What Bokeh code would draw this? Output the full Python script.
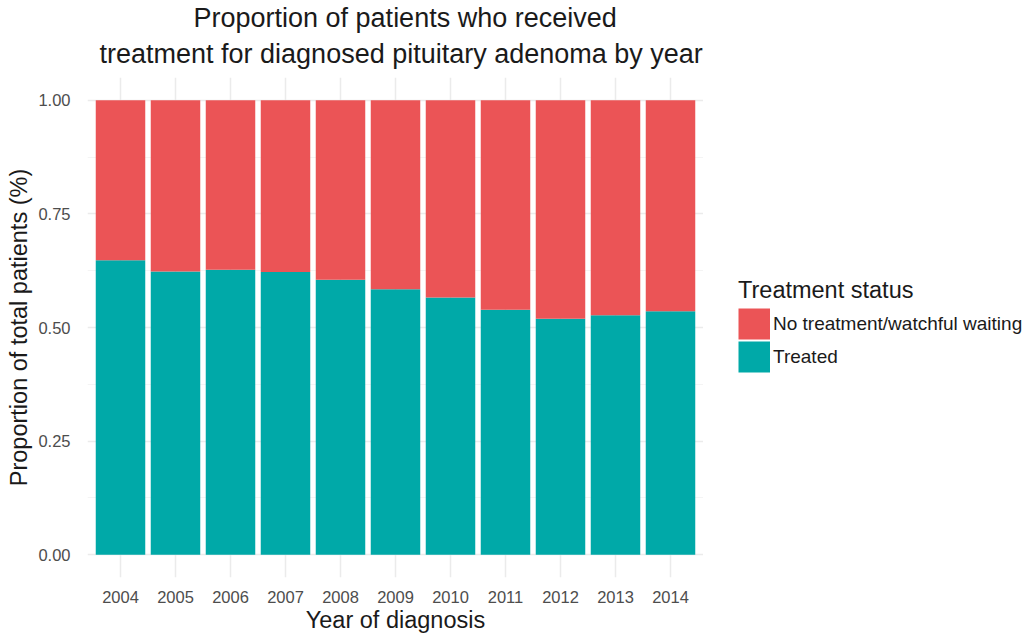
from bokeh.plotting import figure
from bokeh.models import (FactorRange, Range1d, FixedTicker, Legend, LegendItem,
                          Title, ColumnDataSource)
from bokeh.layouts import row
from bokeh.embed import file_html
from bokeh.resources import INLINE

years = ["2004", "2005", "2006", "2007", "2008", "2009", "2010", "2011", "2012", "2013", "2014"]
treated = [0.648, 0.623, 0.627, 0.622, 0.605, 0.584, 0.566, 0.539, 0.519, 0.527, 0.536]
untreated = [round(1 - t, 3) for t in treated]
series_names = ["Treated", "No treatment/watchful waiting"]
series_colors = ["#00A9A8", "#EB5456"]
y_ticks = [0.0, 0.25, 0.5, 0.75, 1.0]
y_tick_labels = ["0.00", "0.25", "0.50", "0.75", "1.00"]
y_minor = [0.125, 0.375, 0.625, 0.875]

FONT = "Liberation Sans"

src = ColumnDataSource(dict(year=years, treated=treated, untreated=untreated))

p = figure(x_range=FactorRange(factors=years, range_padding=0.1, range_padding_units="absolute"),
           y_range=Range1d(-0.05, 1.05),
           width=703, height=635, output_backend="svg", toolbar_location=None,
           min_border_left=87, min_border_right=0, min_border_top=77, min_border_bottom=58)
p.outline_line_color = None
p.background_fill_color = "white"
p.border_fill_color = "white"

rs = p.vbar_stack(["treated", "untreated"], x="year", width=0.9, source=src,
                  color=series_colors, line_color=None)

# titles (two lines)
p.add_layout(Title(text="treatment for diagnosed pituitary adenoma by year", align="left",
                   text_font=FONT, text_font_size="27px", text_font_style="normal",
                   text_color="#1a1a1a", standoff=17, offset=12), "above")
p.add_layout(Title(text="Proportion of patients who received", align="left",
                   text_font=FONT, text_font_size="27px", text_font_style="normal",
                   text_color="#1a1a1a", standoff=-8, offset=106), "above")

# axes
for ax in (p.xaxis[0], p.yaxis[0]):
    ax.axis_line_color = None
    ax.major_tick_line_color = None
    ax.minor_tick_line_color = None
    ax.major_tick_out = 0
    ax.major_tick_in = 0
    ax.major_label_text_font = FONT
    ax.major_label_text_font_size = "16.5px"
    ax.major_label_text_color = "#4D4D4D"
    ax.axis_label_text_font = FONT
    ax.axis_label_text_font_size = "23.5px"
    ax.axis_label_text_font_style = "normal"
    ax.axis_label_text_color = "#1a1a1a"

p.xaxis.axis_label = "Year of diagnosis"
p.xaxis.major_label_standoff = 13
p.xaxis.axis_label_standoff = 1
p.xaxis.group_text_font_size = "0px"

p.yaxis.axis_label = "Proportion of total patients (%)"
p.yaxis.ticker = FixedTicker(ticks=y_ticks, minor_ticks=y_minor)
p.yaxis.major_label_overrides = {t: l for t, l in zip(y_ticks, y_tick_labels)}
p.yaxis.major_label_standoff = 13
p.yaxis.axis_label_standoff = 3

# grids
p.xgrid.grid_line_color = "#EBEBEB"
p.xgrid.grid_line_width = 1.5
p.ygrid.grid_line_color = "#EBEBEB"
p.ygrid.grid_line_width = 1.5
p.ygrid.minor_grid_line_color = "#F4F4F4"
p.ygrid.minor_grid_line_width = 1

# legend panel (separate, axis-free figure to the right)
lg = figure(width=320, height=635, output_backend="svg", toolbar_location=None,
            x_range=Range1d(0, 1), y_range=Range1d(0, 1),
            x_axis_location=None, y_axis_location=None,
            min_border_left=0, min_border_right=0, min_border_top=0, min_border_bottom=0)
lg.outline_line_color = None
lg.xgrid.visible = False
lg.ygrid.visible = False
lg.background_fill_color = "white"
lg.border_fill_color = "white"

nan = float("nan")
# thick butt-capped lines give full square keys; NaN -> nothing drawn in the panel
key_untreated = lg.line(x=[nan], y=[nan], line_width=31, line_color=series_colors[1])
key_treated = lg.line(x=[nan], y=[nan], line_width=31, line_color=series_colors[0])

items = [LegendItem(label=series_names[1], renderers=[key_untreated]),
         LegendItem(label=series_names[0], renderers=[key_treated])]
legend = Legend(items=items, location=(35, 204),
                title="Treatment status", title_text_font=FONT, title_text_font_size="23.5px",
                title_text_font_style="normal",
                title_text_color="#1a1a1a", title_standoff=3,
                label_text_font=FONT, label_text_font_size="19px", label_text_color="#1a1a1a",
                glyph_width=32, glyph_height=33, spacing=0, label_standoff=3,
                padding=0, margin=0, border_line_color=None, background_fill_alpha=0)
lg.add_layout(legend, "center")

layout = row(p, lg)
open("out.html", "w").write(file_html(layout, INLINE))
